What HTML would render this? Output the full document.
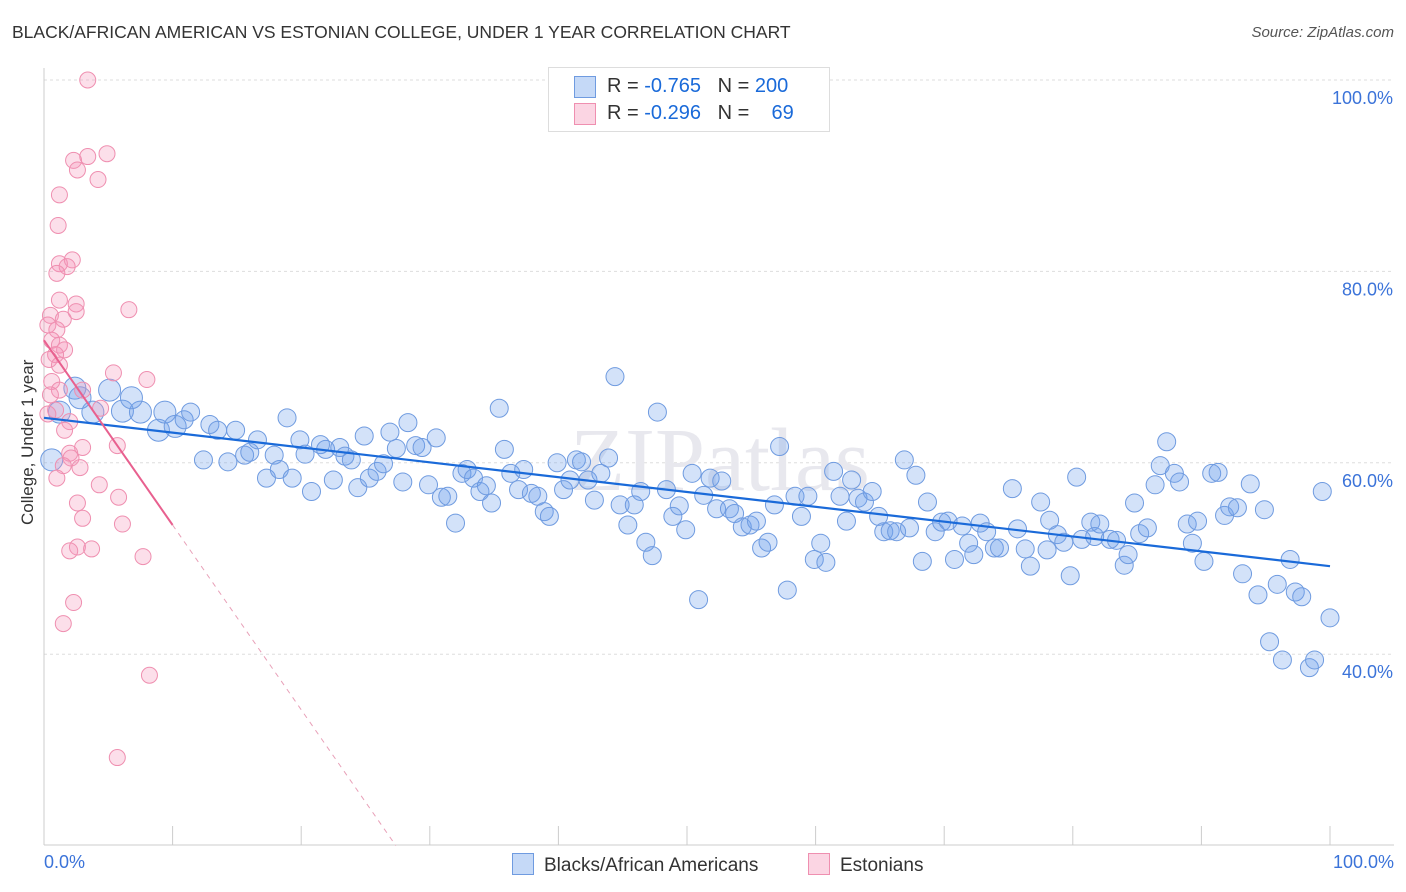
<!DOCTYPE html>
<html><head><meta charset="utf-8"><style>
body{margin:0;background:#fff;font-family:"Liberation Sans",sans-serif;}
#wrap{position:relative;width:1406px;height:892px;overflow:hidden;}
.t{position:absolute;white-space:nowrap;}
</style></head><body><div id="wrap">
<div class="t" style="left:12px;top:22px;font-size:17.5px;color:#333;">BLACK/AFRICAN AMERICAN VS ESTONIAN COLLEGE, UNDER 1 YEAR CORRELATION CHART</div>
<div class="t" style="right:12px;top:24px;font-size:15px;color:#555;font-style:italic;">Source: ZipAtlas.com</div>
<svg id="svg" width="1406" height="892" style="position:absolute;left:0;top:0"></svg>
</div>
<script>
const yTicks=[40,60,80,100];
const yTickLabels=["40.0%","60.0%","80.0%","100.0%"];
const blueX=[0.6,1.2,2.4,2.8,3.8,5.1,6.1,7.5,6.8,8.9,9.4,10.2,10.9,11.4,12.4,12.9,13.5,14.3,14.9,15.6,16.0,16.6,17.3,17.9,18.3,18.9,19.3,19.9,20.3,20.8,21.5,21.9,22.5,23.0,23.4,23.9,24.4,24.9,25.3,25.9,26.4,26.9,27.4,27.9,28.3,28.9,29.4,29.9,30.5,30.9,31.4,32.0,32.5,32.9,33.4,33.9,34.4,34.8,35.4,35.8,36.3,36.9,37.3,37.9,38.4,38.9,39.3,39.9,40.4,40.9,41.4,41.8,42.3,42.8,43.3,43.9,44.4,44.8,45.4,45.9,46.4,46.8,47.3,47.7,48.4,48.9,49.4,49.9,50.4,50.9,51.3,51.8,52.3,52.7,53.3,53.7,54.3,54.9,55.4,55.8,56.3,56.8,57.2,57.8,58.4,58.9,59.4,59.9,60.4,60.8,61.4,61.9,62.4,62.8,63.3,63.8,64.4,64.9,65.3,65.8,66.3,66.9,67.3,67.8,68.3,68.7,69.3,69.8,70.3,70.8,71.4,71.9,72.3,72.8,73.3,73.9,74.3,75.3,75.7,76.3,76.7,77.5,78.0,78.2,78.8,79.3,79.8,80.3,80.7,81.4,81.7,82.1,82.9,83.4,84.0,84.3,84.8,85.2,85.8,86.4,86.8,87.3,87.9,88.3,88.9,89.3,89.7,90.2,90.8,91.3,91.8,92.2,92.8,93.2,93.8,94.4,94.9,95.3,95.9,96.3,96.9,97.3,97.8,98.4,98.8,99.4,100];
const blueY=[60.3,65.3,67.8,66.8,65.3,67.6,65.4,65.3,66.8,63.4,65.3,63.8,64.5,65.3,60.3,64.0,63.4,60.1,63.4,60.8,61.1,62.4,58.4,60.8,59.3,64.7,58.4,62.4,60.9,57.0,61.9,61.4,58.2,61.6,60.7,60.3,57.4,62.8,58.4,59.1,59.9,63.2,61.5,58.0,64.2,61.8,61.6,57.7,62.6,56.4,56.5,53.7,58.9,59.3,58.4,57.0,57.6,55.8,65.7,61.4,58.9,57.2,59.3,56.8,56.5,54.9,54.4,60.0,57.2,58.2,60.3,60.1,58.2,56.1,58.9,60.5,69.0,55.6,53.5,55.6,57.0,51.7,50.3,65.3,57.2,54.4,55.5,53.0,58.9,45.7,56.6,58.4,55.2,58.1,55.2,54.7,53.3,53.5,53.9,51.1,51.7,55.6,61.7,46.7,56.5,54.4,56.5,49.9,51.6,49.6,59.1,56.5,53.9,58.2,56.3,55.9,57.0,54.4,52.8,52.9,52.8,60.3,53.2,58.7,49.7,55.9,52.8,53.8,53.9,49.9,53.4,51.6,50.4,53.7,52.8,51.1,51.1,57.3,53.1,51.0,49.2,55.9,50.9,54.0,52.5,51.7,48.2,58.5,52.0,53.8,52.3,53.6,52.0,51.9,49.3,50.4,55.8,52.6,53.2,57.7,59.7,62.2,58.9,58.0,53.6,51.6,53.9,49.7,58.9,59.0,54.5,55.4,55.3,48.4,57.8,46.2,55.1,41.3,47.3,39.4,49.9,46.5,46.0,38.6,39.4,57.0,43.8];
const pinkX=[3.4,2.3,3.4,4.9,2.6,4.2,1.2,1.1,1.2,2.2,1.8,1.0,1.2,2.5,2.5,6.6,0.5,1.5,0.3,1.0,0.6,1.2,1.6,0.9,0.4,1.2,5.4,8.0,0.6,1.2,3.0,0.5,4.4,0.9,0.3,2.0,1.6,5.7,3.0,2.0,2.1,1.5,2.8,1.0,4.3,5.8,2.6,3.0,6.1,2.6,3.7,2.0,7.7,2.3,1.5,8.2,5.7];
const pinkY=[100,91.6,92.0,92.3,90.6,89.6,88.0,84.8,80.8,81.2,80.5,79.8,77.0,76.6,75.8,76.0,75.4,75.0,74.4,73.9,72.8,72.3,71.8,71.3,70.8,70.2,69.4,68.7,68.5,67.6,67.6,67.1,65.7,65.5,65.1,64.3,63.4,61.8,61.6,61.0,60.5,59.7,59.5,58.4,57.7,56.4,55.8,54.2,53.6,51.2,51.0,50.8,50.2,45.4,43.2,37.8,29.2];
const blueTrend=[64.7,49.2];
const pinkTrend=[72.8,53.5];

const X=v=>44+v*12.86, Y=v=>80+(100-v)*9.57;
const svg=document.getElementById('svg');const NS='http://www.w3.org/2000/svg';
function mk(t,a,p){const e=document.createElementNS(NS,t);for(const k in a)e.setAttribute(k,a[k]);(p||svg).appendChild(e);return e;}
// grid
yTicks.forEach((t,i)=>{
 const g=mk('line',{x1:44,x2:1394,y1:Y(t),y2:Y(t),stroke:'#ddd','stroke-dasharray':'3,3'});
 
 
 const tx=mk('text',{x:1393,y:Y(t)+24,'text-anchor':'end','font-size':18,fill:'#3b73d9','font-family':'Liberation Sans'});
 tx.textContent=yTickLabels[i];
 
 
});
const ax=mk('line',{x1:44,x2:44,y1:68,y2:845,stroke:'#ccc'});


const bx=mk('line',{x1:44,x2:1394,y1:845,y2:845,stroke:'#ccc'});


for(let i=1;i<=10;i++){const tk=mk('line',{x1:X(i*10),x2:X(i*10),y1:826,y2:845,stroke:'#ccc'});
 
 }
const wm=mk('text',{x:720,y:490,'text-anchor':'middle','font-size':90,fill:'#e8e8ee','font-family':'Liberation Serif'});wm.textContent='ZIPatlas';


blueX.forEach((v,i)=>{const r=i<12?11:9;const c=mk('circle',{cx:X(v),cy:Y(blueY[i]),r:r,fill:'rgba(110,160,235,0.3)',stroke:'#6f9be0','stroke-width':1});
 
 });
pinkX.forEach((v,i)=>{const c=mk('circle',{cx:X(v),cy:Y(pinkY[i]),r:8,fill:'rgba(245,150,185,0.3)',stroke:'#ef8fb0','stroke-width':1});
 
 });
const bl=mk('line',{x1:X(0),y1:Y(blueTrend[0]),x2:X(100),y2:Y(blueTrend[1]),stroke:'#1a6ad9','stroke-width':2.2});


const sl=(pinkTrend[1]-pinkTrend[0])/10;
const pl=mk('line',{x1:X(0),y1:Y(pinkTrend[0]),x2:X(10),y2:Y(pinkTrend[1]),stroke:'#e8608f','stroke-width':2});


const xe=(20-pinkTrend[0])/sl;
const pd=mk('line',{x1:X(10),y1:Y(pinkTrend[1]),x2:X(xe),y2:Y(20),stroke:'#e8a0b8','stroke-width':1,'stroke-dasharray':'5,5'});


</script>
<div class="t" style="left:-42px;top:445px;transform:rotate(-90deg);font-size:17px;color:#333;width:140px;text-align:center;">College, Under 1 year</div>
<div class="t" style="left:44px;top:852px;font-size:18px;color:#3b73d9;">0.0%</div>
<div class="t" style="right:12px;top:852px;font-size:18px;color:#3b73d9;">100.0%</div>
<div style="position:absolute;left:548px;top:67px;width:280px;height:63px;border:1px solid #ddd;background:#fff;font-size:20px;color:#333;">
 <div style="position:absolute;left:25px;top:8px;width:20px;height:20px;background:rgba(110,160,235,0.4);border:1px solid #6f9be0;"></div>
 <div class="t" style="left:58px;top:7px;">R = <span style="color:#1a6ad9">-0.765</span>&nbsp;&nbsp;&nbsp;N = <span style="color:#1a6ad9">200</span></div>
 <div style="position:absolute;left:25px;top:35px;width:20px;height:20px;background:rgba(245,150,185,0.4);border:1px solid #ef8fb0;"></div>
 <div class="t" style="left:58px;top:34px;">R = <span style="color:#1a6ad9">-0.296</span>&nbsp;&nbsp;&nbsp;N = &nbsp;&nbsp;&nbsp;<span style="color:#1a6ad9">69</span></div>
</div>
<div style="position:absolute;left:512px;top:853px;font-size:19px;color:#333;">
 <span style="display:inline-block;width:20px;height:20px;background:rgba(110,160,235,0.4);border:1px solid #6f9be0;vertical-align:-4px;margin-right:10px"></span>Blacks/African Americans</div>
<div style="position:absolute;left:808px;top:853px;font-size:19px;color:#333;">
 <span style="display:inline-block;width:20px;height:20px;background:rgba(245,150,185,0.4);border:1px solid #ef8fb0;vertical-align:-4px;margin-right:10px"></span>Estonians</div>
</body></html>
